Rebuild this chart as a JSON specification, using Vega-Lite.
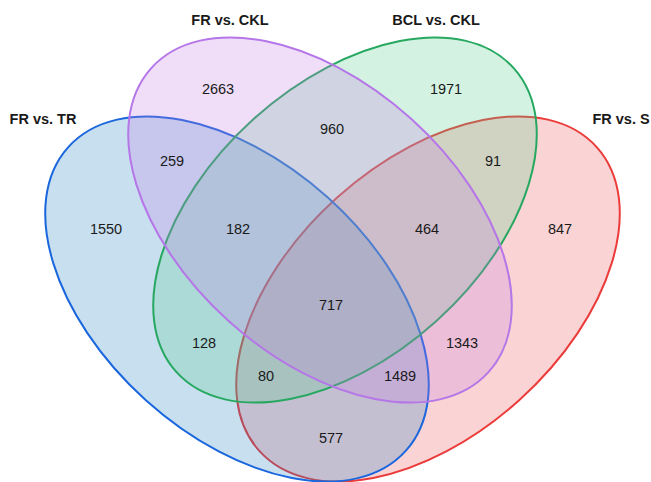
{
  "$schema": "https://vega.github.io/schema/vega-lite/v6.json",
  "width": 651,
  "height": 482,
  "padding": 0,
  "autosize": {"type": "none"},
  "background": "white",
  "config": {"view": {"stroke": null}},
  "datasets": {
    "sets": [
      {"set": "FR vs. S", "cx": 428, "cy": 299, "angle": 318},
      {"set": "FR vs. TR", "cx": 237, "cy": 299, "angle": 42},
      {"set": "BCL vs. CKL", "cx": 345, "cy": 220, "angle": 318},
      {"set": "FR vs. CKL", "cx": 320, "cy": 220, "angle": 42}
    ],
    "counts": [
      {"n": "2663", "x": 218, "y": 90},
      {"n": "1971", "x": 446, "y": 90},
      {"n": "960", "x": 332, "y": 130},
      {"n": "259", "x": 172, "y": 162},
      {"n": "91", "x": 493, "y": 162},
      {"n": "1550", "x": 106, "y": 230},
      {"n": "182", "x": 238, "y": 230},
      {"n": "464", "x": 427, "y": 230},
      {"n": "847", "x": 560, "y": 230},
      {"n": "717", "x": 331, "y": 306},
      {"n": "128", "x": 204, "y": 344},
      {"n": "1343", "x": 462, "y": 344},
      {"n": "80", "x": 266, "y": 377},
      {"n": "1489", "x": 400, "y": 377},
      {"n": "577", "x": 331, "y": 439}
    ],
    "titles": [
      {"t": "FR vs. TR", "x": 43, "y": 120},
      {"t": "FR vs. CKL", "x": 230, "y": 21},
      {"t": "BCL vs. CKL", "x": 436, "y": 21},
      {"t": "FR vs. S", "x": 621, "y": 120}
    ]
  },
  "layer": [
    {
      "data": {"name": "sets"},
      "mark": {
        "type": "point",
        "shape": "M 1 0 C 1 0.3314 0.5523 0.6 0 0.6 C -0.5523 0.6 -1 0.3314 -1 0 C -1 -0.3314 -0.5523 -0.6 0 -0.6 C 0.5523 -0.6 1 -0.3314 1 0 Z",
        "size": 206116,
        "filled": true,
        "opacity": 1,
        "fillOpacity": 0.25,
        "strokeOpacity": 1,
        "strokeWidth": 2
      },
      "encoding": {
        "x": {"field": "cx", "type": "quantitative", "scale": {"domain": [0, 651], "nice": false, "zero": false}, "axis": null},
        "y": {"field": "cy", "type": "quantitative", "scale": {"domain": [0, 482], "nice": false, "zero": false, "reverse": true}, "axis": null},
        "angle": {"field": "angle", "type": "quantitative", "scale": null},
        "fill": {
          "field": "set", "type": "nominal",
          "scale": {"domain": ["FR vs. TR", "FR vs. CKL", "BCL vs. CKL", "FR vs. S"], "range": ["#2381c3", "#c37be3", "#53cb8b", "#eb5353"]},
          "legend": null
        },
        "stroke": {
          "field": "set", "type": "nominal",
          "scale": {"domain": ["FR vs. TR", "FR vs. CKL", "BCL vs. CKL", "FR vs. S"], "range": ["#1a66dd", "#b576e8", "#27a860", "#eb3b3b"]},
          "legend": null
        }
      }
    },
    {
      "data": {"name": "counts"},
      "mark": {"type": "text", "font": "Liberation Sans", "fontSize": 14.5, "color": "#1a1a1a", "align": "center", "baseline": "middle"},
      "encoding": {
        "x": {"field": "x", "type": "quantitative"},
        "y": {"field": "y", "type": "quantitative"},
        "text": {"field": "n", "type": "nominal"}
      }
    },
    {
      "data": {"name": "titles"},
      "mark": {"type": "text", "font": "Liberation Sans", "fontSize": 14.5, "fontWeight": "bold", "color": "#1a1a1a", "align": "center", "baseline": "middle"},
      "encoding": {
        "x": {"field": "x", "type": "quantitative"},
        "y": {"field": "y", "type": "quantitative"},
        "text": {"field": "t", "type": "nominal"}
      }
    }
  ]
}
